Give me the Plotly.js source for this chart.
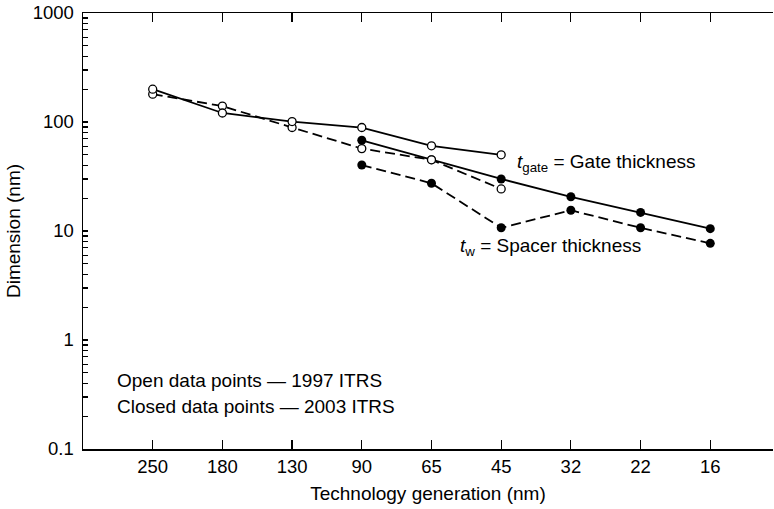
<!DOCTYPE html>
<html>
<head>
<meta charset="utf-8">
<script src="https://cdn.plot.ly/plotly-3.0.1.min.js"></script>
<style>html,body{margin:0;padding:0;background:#fff;}#chart{width:774px;height:509px;}</style>
</head>
<body>
<div id="chart"></div>
<script>
// Technology generations (nm)
const categories = ['250', '180', '130', '90', '65', '45', '32', '22', '16'];
// 1997 ITRS (open points)
const gate1997 = [200, 121, 101, 89, 60.5, 50, null, null, null];
const spacer1997 = [180, 140, 89, 57, 45, 24.3, null, null, null];
// 2003 ITRS (closed points)
const gate2003 = [null, null, null, 68, 45, 30, 20.6, 14.8, 10.5];
const spacer2003 = [null, null, null, 40.3, 27.4, 10.7, 15.5, 10.7, 7.7];
// y ticks
const yTickVals = [0.1, 1, 10, 100, 1000];
const yTickText = ['0.1', '1', '10', '100', '1000'];
const yMinorVals = [0.2,0.3,0.4,0.5,0.6,0.7,0.8,0.9,2,3,4,5,6,7,8,9,20,30,40,50,60,70,80,90,200,300,400,500,600,700,800,900];

const FONT = 'Liberation Sans, Arial, Helvetica, sans-serif';
const dashPat = '10px,5px';

function trace(y, open, dashed) {
  return {
    x: categories, y: y, type: 'scatter', mode: 'lines+markers',
    connectgaps: false,
    line: {color: '#000', width: 1.8, dash: dashed ? dashPat : 'solid'},
    marker: open
      ? {symbol: 'circle', size: 8, color: '#fff', line: {color: '#000', width: 1.3}}
      : {symbol: 'circle', size: 9, color: '#000', line: {color: '#000', width: 0}},
    hoverinfo: 'skip'
  };
}

const data = [
  trace(spacer2003, false, true),
  trace(gate2003, false, false),
  trace(spacer1997, true, true),
  trace(gate1997, true, false)
];

const layout = {
  width: 774, height: 509,
  margin: {l: 83, r: 1, t: 13, b: 60},
  paper_bgcolor: '#fff', plot_bgcolor: '#fff',
  showlegend: false,
  font: {family: FONT, size: 18.5, color: '#000'},
  xaxis: {
    type: 'category', range: [-1.0, 8.9],
    showline: true, linecolor: '#000', linewidth: 1.5, mirror: 'ticks',
    ticks: 'inside', ticklen: 9, tickwidth: 1.2, tickcolor: '#000',
    showgrid: false, zeroline: false,
    tickfont: {family: FONT, size: 18.5, color: '#000'},
    title: {text: 'Technology generation (nm)', font: {family: FONT, size: 19, color: '#000'}, standoff: 11}
  },
  yaxis: {
    type: 'log', range: [-1, 3],
    tickmode: 'array', tickvals: yTickVals, ticktext: yTickText,
    showline: true, linecolor: '#000', linewidth: 1.5, mirror: false,
    ticks: 'inside', ticklen: 5, tickwidth: 1.2, tickcolor: '#000',
    minor: {tickmode: 'array', tickvals: yMinorVals, ticks: 'inside', ticklen: 5, tickwidth: 1.2, tickcolor: '#000', showgrid: false},
    showgrid: false, zeroline: false,
    ticklabelstandoff: 4,
    tickfont: {family: FONT, size: 18.5, color: '#000'},
    title: {text: 'Dimension (nm)', font: {family: FONT, size: 19, color: '#000'}, standoff: 7}
  },
  annotations: [
    {xref: 'paper', yref: 'paper', x: 0.626, y: 0.655, xanchor: 'left', yanchor: 'middle', showarrow: false,
     text: '<i>t</i><sub>gate</sub> = Gate thickness', font: {family: FONT, size: 19, color: '#000'}},
    {xref: 'paper', yref: 'paper', x: 0.543, y: 0.464, xanchor: 'left', yanchor: 'middle', showarrow: false,
     text: '<i>t</i><sub>w</sub> = Spacer thickness', font: {family: FONT, size: 19, color: '#000'}},
    {xref: 'paper', yref: 'paper', x: 0.046, y: 0.157, xanchor: 'left', yanchor: 'middle', showarrow: false,
     text: 'Open data points \u2014 1997 ITRS', font: {family: FONT, size: 19, color: '#000'}},
    {xref: 'paper', yref: 'paper', x: 0.046, y: 0.097, xanchor: 'left', yanchor: 'middle', showarrow: false,
     text: 'Closed data points \u2014 2003 ITRS', font: {family: FONT, size: 19, color: '#000'}}
  ]
};

Plotly.newPlot('chart', data, layout, {displayModeBar: false, staticPlot: true});
</script>
</body>
</html>
